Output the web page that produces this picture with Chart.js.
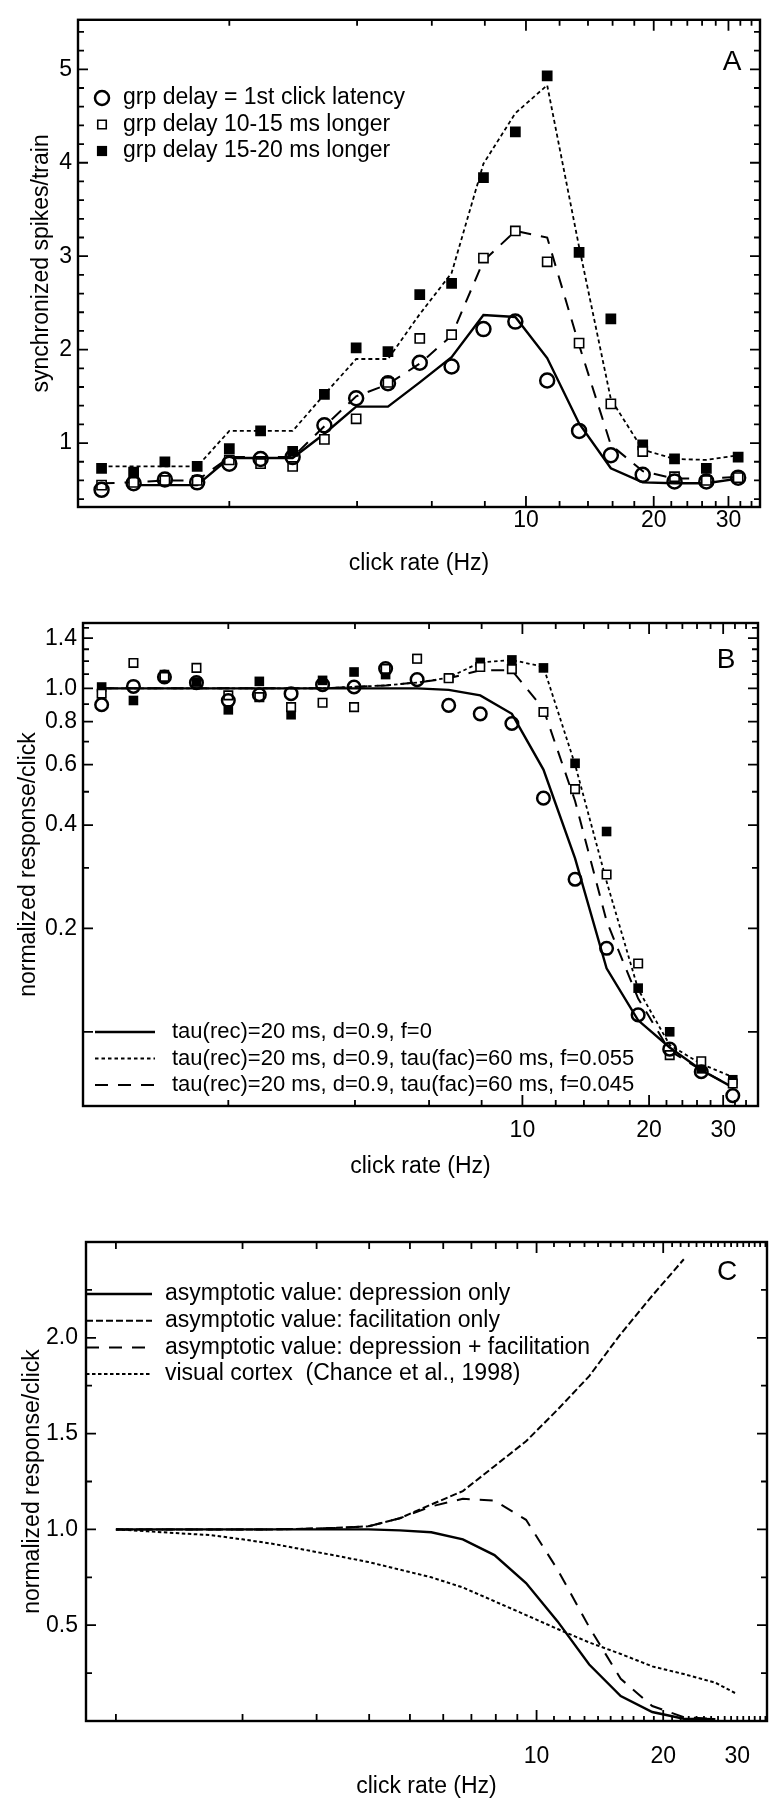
<!DOCTYPE html>
<html>
<head>
<meta charset="utf-8">
<title>click rate</title>
<script src="https://cdn.jsdelivr.net/npm/chart.js@4.4.1/dist/chart.umd.min.js"></script>
<style>
  html, body { margin: 0; padding: 0; background: #fff; }
  .painel { position: absolute; left: 0; }
</style>
</head>
<body>
<canvas id="graficoA" class="painel" width="773" height="590" style="top:0px"></canvas>
<canvas id="graficoB" class="painel" width="773" height="600" style="top:590px"></canvas>
<canvas id="graficoC" class="painel" width="773" height="610" style="top:1190px"></canvas>
<script>
// --- DADOS ---
const clickRate = [1.00, 1.19, 1.41, 1.68, 2.00, 2.37, 2.82, 3.35, 3.98, 4.73, 5.62, 6.68, 7.94, 9.44, 11.22, 13.34, 15.85, 18.84, 22.39, 26.61, 31.62];
const cRate = [1.00, 1.19, 1.41, 1.68, 2.00, 2.37, 2.82, 3.35, 3.98, 4.73, 5.62, 6.68, 7.94, 9.44, 11.22, 13.34, 15.85, 18.84, 22.39, 26.61, 30.0];

// painel A
const aLatencia = [0.50, 0.57, 0.61, 0.58, 0.78, 0.83, 0.85, 1.19, 1.48, 1.64, 1.86, 1.82, 2.22, 2.30, 1.67, 1.13, 0.87, 0.66, 0.59, 0.59, 0.63];
const aAtraso10 = [0.55, 0.58, 0.60, 0.60, 0.82, 0.78, 0.75, 1.04, 1.26, 1.65, 2.12, 2.16, 2.98, 3.27, 2.94, 2.07, 1.42, 0.91, 0.64, 0.60, 0.63];
const aAtraso15 = [0.73, 0.69, 0.80, 0.75, 0.94, 1.13, 0.91, 1.52, 2.02, 1.98, 2.59, 2.71, 3.84, 4.33, 4.93, 3.04, 2.33, 0.98, 0.83, 0.73, 0.85];
const aModLatencia = [null, 0.55, 0.55, 0.55, 0.84, 0.84, 0.84, 1.10, 1.39, 1.39, 1.65, 1.92, 2.37, 2.35, 1.91, 1.21, 0.73, 0.58, 0.57, 0.57, 0.62];
const aModAtraso10 = [0.57, 0.58, 0.60, 0.60, 0.85, 0.85, 0.85, 1.18, 1.50, 1.63, 1.85, 2.15, 2.95, 3.27, 3.20, 2.05, 0.98, 0.70, 0.62, 0.62, 0.64];
const aModAtraso15 = [0.75, 0.75, 0.75, 0.75, 1.13, 1.13, 1.13, 1.52, 1.90, 1.90, 2.38, 2.82, 3.99, 4.53, 4.83, 3.10, 1.47, 0.93, 0.83, 0.82, 0.87];

// painel B
const bLatencia = [0.896, 1.013, 1.079, 1.039, 0.922, 0.958, 0.965, 1.025, 1.009, 1.142, 1.06, 0.892, 0.843, 0.79, 0.479, 0.278, 0.175, 0.112, 0.089, 0.0765, 0.0652];
const bAtraso10 = [0.965, 1.186, 1.08, 1.147, 0.954, 0.943, 0.882, 0.908, 0.882, 1.14, 1.22, 1.07, 1.154, 1.138, 0.853, 0.509, 0.287, 0.158, 0.0855, 0.0821, 0.0707];
const bAtraso15 = [1.009, 0.922, 1.097, 1.043, 0.866, 1.048, 0.838, 1.055, 1.116, 1.097, 1.221, 1.073, 1.19, 1.21, 1.147, 0.605, 0.383, 0.134, 0.1, 0.078, 0.0725];
const bModF0 = [1, 1, 1, 1, 1, 1, 1, 1, 1, 1, 1, 0.99, 0.954, 0.843, 0.58, 0.32, 0.153, 0.108, 0.09, 0.0774, 0.0689];
const bModF055 = [1, 1, 1, 1, 1, 1, 1, 1, 1.01, 1.02, 1.04, 1.075, 1.19, 1.21, 1.155, 0.6, 0.274, 0.133, 0.0915, 0.0806, 0.0738];
const bModF045 = [1, 1, 1, 1, 1, 1, 1, 1, 1.01, 1.02, 1.04, 1.07, 1.129, 1.129, 0.87, 0.47, 0.21, 0.125, 0.088, 0.0774, 0.069];

// painel C
const cDepressao = [1.0, 1.0, 1.0, 1.0, 1.0, 1.0, 1.0, 1.0, 1.0, 0.995, 0.985, 0.948, 0.866, 0.72, 0.52, 0.295, 0.13, 0.047, 0.012, 0.01, null];
const cFacilitacao = [1.0, 1.0, 1.0, 1.0, 1.0, 1.0, 1.003, 1.008, 1.016, 1.058, 1.13, 1.2, 1.33, 1.46, 1.625, 1.8, 2.02, 2.22, 2.41, null, null];
const cDepFac = [1.0, 1.0, 1.0, 1.0, 1.0, 1.0, 1.003, 1.008, 1.016, 1.058, 1.12, 1.16, 1.15, 1.05, 0.79, 0.49, 0.22, 0.078, 0.02, 0.01, null];
const cVisual = [1.0, 0.99, 0.98, 0.97, 0.948, 0.924, 0.893, 0.862, 0.83, 0.79, 0.75, 0.697, 0.625, 0.553, 0.48, 0.41, 0.35, 0.285, 0.245, 0.2, 0.14];

// ticks
const xRotulos = [10, 20, 30];
const abXMaior = [10, 20, 30];
const abXMenor = [2, 4, 6, 8, 12, 14, 16, 18, 22, 24, 26, 28, 32, 34];
const cXMaior = [10, 20];
const cXMedio = [1, 2, 3, 4, 5, 6, 7, 8, 9];
const cXMenor = [11, 12, 13, 14, 15, 16, 17, 18, 19, 21, 22, 23, 24, 25, 26, 27, 28, 29, 30, 31, 32, 33, 34, 35];
const aYRotulos = [1, 2, 3, 4, 5];
const aYMenor = [0.4, 0.6, 0.8, 1.2, 1.4, 1.6, 1.8, 2.2, 2.4, 2.6, 2.8, 3.2, 3.4, 3.6, 3.8, 4.2, 4.4, 4.6, 4.8, 5.2, 5.4];
const bYRotulos = [0.2, 0.4, 0.6, 0.8, 1.0, 1.4];
const bYMaior = [0.1, 0.2, 0.4, 0.6, 0.8, 1.0, 1.4];
const bYMenor = [0.3, 0.5, 0.7, 0.9, 1.1, 1.2, 1.3, 1.5];
const cYRotulos = [0.5, 1.0, 1.5, 2.0];
const cYMenor = [0.25, 0.75, 1.25, 1.75, 2.25];

const FONTE = '"Liberation Sans", Arial, Helvetica, sans-serif';

const pts = (xs, ys) => xs.map((x, i) => ({ x, y: ys[i] })).filter(p => p.y !== null);

const marcador = (label, ys, estilo, raio, fundo, espessura) => ({
  label, data: pts(clickRate, ys), showLine: false,
  pointStyle: estilo, pointRadius: raio, pointHoverRadius: raio,
  pointBackgroundColor: fundo, pointBorderColor: '#000', pointBorderWidth: espessura
});

const curva = (label, xs, ys, dash, espessura) => ({
  label, data: pts(xs, ys), showLine: true, pointRadius: 0, borderColor: '#000',
  borderWidth: espessura, borderDash: dash, tension: 0, fill: false
});

// moldura + ticks pra dentro nos 4 lados
const molduraTicks = {
  id: 'molduraTicks',
  afterDatasetsDraw(chart, args, o) {
    const { ctx, chartArea: a, scales: { x, y } } = chart;
    ctx.save();
    ctx.strokeStyle = '#000';
    ctx.lineWidth = 1.8;
    const marcaX = (lista, comp) => lista.forEach(v => {
      const px = x.getPixelForValue(v);
      if (px < a.left || px > a.right) return;
      ctx.beginPath();
      ctx.moveTo(px, a.bottom); ctx.lineTo(px, a.bottom - comp);
      ctx.moveTo(px, a.top); ctx.lineTo(px, a.top + comp);
      ctx.stroke();
    });
    const marcaY = (lista, comp) => lista.forEach(v => {
      const py = y.getPixelForValue(v);
      if (py < a.top || py > a.bottom) return;
      ctx.beginPath();
      ctx.moveTo(a.left, py); ctx.lineTo(a.left + comp, py);
      ctx.moveTo(a.right, py); ctx.lineTo(a.right - comp, py);
      ctx.stroke();
    });
    marcaX(o.xMaior, 11);
    marcaX(o.xMedio || [], 7);
    marcaX(o.xMenor, o.xMenorComp || 6);
    marcaY(o.yMaior, 10);
    marcaY(o.yMenor, 6);
    ctx.lineWidth = 2.4;
    ctx.strokeRect(a.left, a.top, a.right - a.left, a.bottom - a.top);
    ctx.restore();
  }
};

// legenda e letra do painel
const legendaFigura = {
  id: 'legendaFigura',
  afterDraw(chart, args, o) {
    const { ctx } = chart;
    ctx.save();
    ctx.fillStyle = '#000';
    ctx.strokeStyle = '#000';
    ctx.textBaseline = 'middle';
    ctx.textAlign = 'left';
    o.itens.forEach((it, i) => {
      const yy = o.y + i * o.passo;
      ctx.save();
      ctx.lineWidth = it.espessura;
      if (it.tipo === 'linha') {
        ctx.setLineDash(it.dash);
        ctx.beginPath(); ctx.moveTo(o.x0, yy); ctx.lineTo(o.x1, yy); ctx.stroke();
      } else {
        ctx.fillStyle = it.fundo;
        Chart.helpers.drawPoint(ctx, { pointStyle: it.tipo, radius: it.raio, borderWidth: it.espessura, rotation: 0 }, o.x0, yy);
      }
      ctx.restore();
      ctx.font = `${o.tamanho}px ${FONTE}`;
      ctx.fillText(it.texto, o.xTexto, yy);
    });
    ctx.font = `${o.letraTam}px ${FONTE}`;
    ctx.textAlign = 'center';
    ctx.fillText(o.letra, o.letraX, o.letraY);
    ctx.restore();
  }
};

function eixoX(c) {
  return {
    type: 'logarithmic', min: c.min, max: c.max,
    grid: { display: false, drawTicks: false }, border: { display: false },
    afterBuildTicks: s => { s.ticks = xRotulos.map(v => ({ value: v })); },
    afterFit: s => { s.height = c.altura; },
    ticks: { autoSkip: false, maxRotation: 0, padding: c.pad, color: '#000', font: { family: FONTE, size: 23 }, callback: v => String(v) },
    title: { display: true, text: 'click rate (Hz)', color: '#000', font: { family: FONTE, size: 23 }, padding: { top: 0, bottom: c.tituloPad } }
  };
}

function eixoY(c) {
  return {
    type: c.tipo, min: c.min, max: c.max,
    grid: { display: false, drawTicks: false }, border: { display: false },
    afterBuildTicks: s => { s.ticks = c.rotulos.map(v => ({ value: v })); },
    afterFit: s => { s.width = c.largura; },
    ticks: { autoSkip: false, padding: c.pad, color: '#000', font: { family: FONTE, size: 23 }, callback: v => v.toFixed(c.casas) },
    title: { display: true, text: c.titulo, color: '#000', font: { family: FONTE, size: 23 }, padding: { top: c.tituloPad, bottom: 0 } }
  };
}

function painel(id, c) {
  return new Chart(document.getElementById(id), {
    type: 'scatter',
    data: { datasets: c.datasets },
    options: {
      responsive: false, animation: false, devicePixelRatio: 1,
      layout: { padding: { top: c.topo, right: c.direita, left: 0, bottom: 0 } },
      plugins: { legend: { display: false }, tooltip: { enabled: false }, molduraTicks: c.ticks, legendaFigura: c.legenda },
      scales: { x: c.x, y: c.y }
    },
    plugins: [molduraTicks, legendaFigura]
  });
}

// --- PAINEL A ---
painel('graficoA', {
  topo: 19, direita: 13,
  datasets: [
    marcador('grp delay = 1st click latency', aLatencia, 'circle', 7, 'rgba(0,0,0,0)', 2.5),
    marcador('grp delay 10-15 ms longer', aAtraso10, 'rect', 6.5, '#fff', 1.6),
    marcador('grp delay 15-20 ms longer', aAtraso15, 'rect', 7.6, '#000', 0),
    curva('modelo latência', clickRate, aModLatencia, [], 2.4),
    curva('modelo 10-15', clickRate, aModAtraso10, [13, 10], 2),
    curva('modelo 15-20', clickRate, aModAtraso15, [4, 3], 1.8)
  ],
  x: eixoX({ min: 0.88, max: 35.6, altura: 83, pad: 0, tituloPad: 13 }),
  y: eixoY({ tipo: 'linear', min: 0.316, max: 5.53, rotulos: aYRotulos, casas: 0, largura: 78, pad: 6, titulo: 'synchronized spikes/train', tituloPad: 28 }),
  ticks: { xMaior: abXMaior, xMenor: abXMenor, yMaior: aYRotulos, yMenor: aYMenor },
  legenda: {
    x0: 102, xTexto: 123, y: 98, passo: 26.5, tamanho: 23,
    itens: [
      { tipo: 'circle', raio: 7, fundo: 'rgba(0,0,0,0)', espessura: 2.5, texto: 'grp delay = 1st click latency' },
      { tipo: 'rect', raio: 6, fundo: '#fff', espessura: 1.6, texto: 'grp delay 10-15 ms longer' },
      { tipo: 'rect', raio: 7.2, fundo: '#000', espessura: 0, texto: 'grp delay 15-20 ms longer' }
    ],
    letra: 'A', letraTam: 28, letraX: 732, letraY: 62
  }
});

// --- PAINEL B ---
painel('graficoB', {
  topo: 33, direita: 15,
  datasets: [
    marcador('latência', bLatencia, 'circle', 6.3, 'rgba(0,0,0,0)', 2.5),
    marcador('10-15', bAtraso10, 'rect', 6, '#fff', 1.6),
    marcador('15-20', bAtraso15, 'rect', 6.8, '#000', 0),
    curva('tau(rec)=20 ms, d=0.9, f=0', clickRate, bModF0, [], 2.4),
    curva('f=0.055', clickRate, bModF055, [3.5, 3], 1.8),
    curva('f=0.045', clickRate, bModF045, [13, 10], 2)
  ],
  x: eixoX({ min: 0.903, max: 36.3, altura: 84, pad: 11, tituloPad: 10 }),
  y: eixoY({ tipo: 'logarithmic', min: 0.0608, max: 1.55, rotulos: bYRotulos, casas: 1, largura: 83, pad: 6, titulo: 'normalized response/click', tituloPad: 15 }),
  ticks: { xMaior: abXMaior, xMenor: abXMenor, yMaior: bYMaior, yMenor: bYMenor },
  legenda: {
    x0: 95, x1: 155, xTexto: 172, y: 442, passo: 26.5, tamanho: 22,
    itens: [
      { tipo: 'linha', dash: [], espessura: 2.4, texto: 'tau(rec)=20 ms, d=0.9, f=0' },
      { tipo: 'linha', dash: [3.5, 3], espessura: 1.8, texto: 'tau(rec)=20 ms, d=0.9, tau(fac)=60 ms, f=0.055' },
      { tipo: 'linha', dash: [13, 10], espessura: 2, texto: 'tau(rec)=20 ms, d=0.9, tau(fac)=60 ms, f=0.045' }
    ],
    letra: 'B', letraTam: 28, letraX: 726, letraY: 70
  }
});

// --- PAINEL C ---
painel('graficoC', {
  topo: 52, direita: 6,
  datasets: [
    curva('asymptotic value: depression only', cRate, cDepressao, [], 2.4),
    curva('asymptotic value: facilitation only', cRate, cFacilitacao, [7, 3], 2),
    curva('asymptotic value: depression + facilitation', cRate, cDepFac, [13, 10], 2),
    curva('visual cortex  (Chance et al., 1998)', cRate, cVisual, [3.5, 2.5], 2)
  ],
  x: eixoX({ min: 0.849, max: 35.3, altura: 79, pad: 22, tituloPad: 0 }),
  y: eixoY({ tipo: 'linear', min: 0, max: 2.5, rotulos: cYRotulos, casas: 1, largura: 86, pad: 8, titulo: 'normalized response/click', tituloPad: 19 }),
  ticks: { xMaior: cXMaior, xMedio: cXMedio, xMenor: cXMenor, xMenorComp: 5, yMaior: cYRotulos, yMenor: cYMenor },
  legenda: {
    x0: 86, x1: 152, xTexto: 165, y: 104, passo: 26.7, tamanho: 23,
    itens: [
      { tipo: 'linha', dash: [], espessura: 2.4, texto: 'asymptotic value: depression only' },
      { tipo: 'linha', dash: [7, 3], espessura: 2, texto: 'asymptotic value: facilitation only' },
      { tipo: 'linha', dash: [13, 10], espessura: 2, texto: 'asymptotic value: depression + facilitation' },
      { tipo: 'linha', dash: [3.5, 2.5], espessura: 2, texto: 'visual cortex  (Chance et al., 1998)' }
    ],
    letra: 'C', letraTam: 28, letraX: 727, letraY: 82
  }
});
</script>
</body>
</html>
